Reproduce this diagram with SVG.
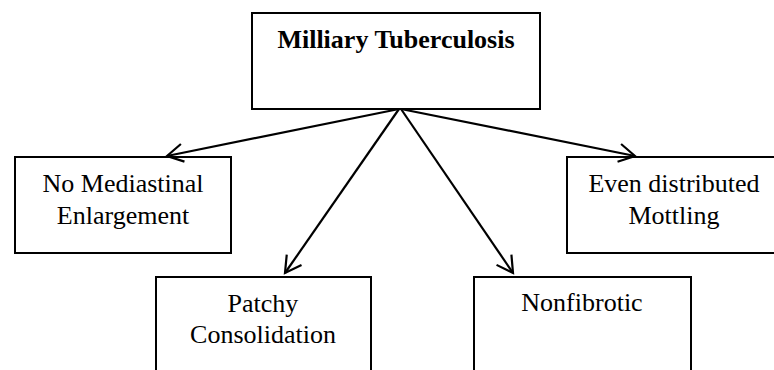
<svg xmlns="http://www.w3.org/2000/svg" width="774" height="370" viewBox="0 0 774 370">
<style>
.box{fill:#fff;stroke:#000;stroke-width:2}
.t{font-family:"Liberation Serif","Times New Roman",serif;font-size:26px;fill:#000;text-anchor:middle}
.b{font-weight:bold}
.c{stroke:#000;stroke-width:2.2;fill:none}
</style>
<defs>
<marker id="ah" markerUnits="userSpaceOnUse" markerWidth="40" markerHeight="40" viewBox="-20 -20 40 40" refX="0" refY="0" orient="auto">
<path d="M-16,-9 L0,0 L-16,9" fill="none" stroke="#000" stroke-width="2.2"/>
</marker>
</defs>
<rect width="774" height="370" fill="#fff"/>
<g id="n-root"><rect class="box" x="252" y="13" width="288" height="96"/><text class="t b" x="396" y="48">Milliary Tuberculosis</text></g>
<g id="n-mediastinal"><rect class="box" x="15" y="157" width="216" height="96"/><text class="t" x="123" y="192">No Mediastinal</text><text class="t" x="123" y="224">Enlargement</text></g>
<g id="n-mottling"><rect class="box" x="567" y="157" width="230" height="96"/><text class="t" x="674" y="192">Even distributed</text><text class="t" x="674" y="224">Mottling</text></g>
<g id="n-patchy"><rect class="box" x="156" y="277" width="215" height="110"/><text class="t" x="263" y="312">Patchy</text><text class="t" x="263" y="343">Consolidation</text></g>
<g id="n-nonfibrotic"><rect class="box" x="474" y="277" width="217" height="110"/><text class="t" x="582" y="311">Nonfibrotic</text></g>
<g id="connectors">
<line class="c" x1="399" y1="109" x2="167" y2="156" marker-end="url(#ah)"/>
<line class="c" x1="399" y1="109" x2="285" y2="273" marker-end="url(#ah)"/>
<line class="c" x1="401" y1="109" x2="513" y2="273" marker-end="url(#ah)"/>
<line class="c" x1="401" y1="109" x2="635" y2="156" marker-end="url(#ah)"/>
</g>
</svg>
